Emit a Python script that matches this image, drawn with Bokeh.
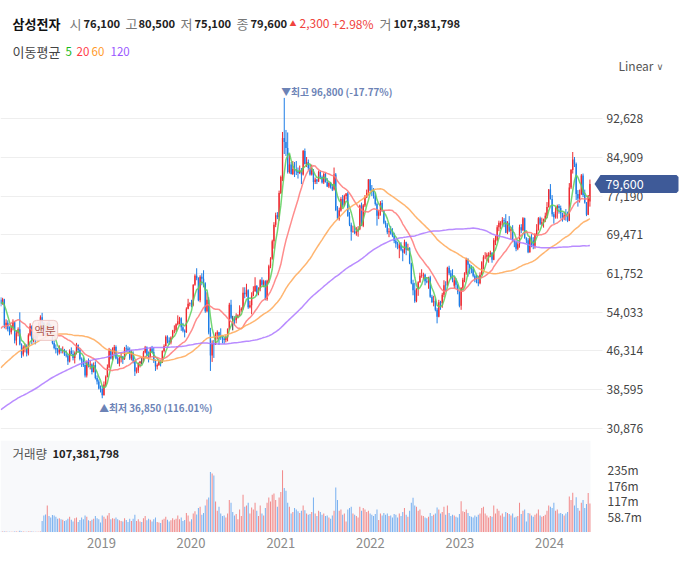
import numpy as np
import pandas as pd
from bokeh.plotting import figure
from bokeh.layouts import column
from bokeh.models import (ColumnDataSource, FixedTicker, NumeralTickFormatter, LinearAxis,
                          CustomJSTickFormatter, Label, Range1d, PolyAnnotation, BoxAnnotation)
from bokeh.embed import file_html
from bokeh.resources import INLINE

KR = "Noto Sans CJK KR"

# ---------------- data (prices in thousand KRW, weekly) ----------------
first_week = "2017-11-13"

# weekly closes before the visible window (used only to warm up the moving averages)
hist_close = [
    23.0, 22.6, 21.8, 22.4, 22.3, 22.6, 23.0, 23.2, 23.4, 25.3, 25.4, 25.4, 27.0,
    26.8, 26.2, 26.0, 26.4, 25.9, 25.5, 25.4, 25.6, 25.2, 23.2, 23.0, 23.1, 23.6,
    23.2, 23.0, 23.6, 23.7, 24.2, 24.6, 25.8, 25.6, 25.7, 25.2, 25.6, 25.6, 25.0,
    25.2, 25.5, 25.8, 26.8, 27.4, 27.8, 28.1, 28.6, 28.6, 29.0, 29.8, 30.1, 30.6,
    31.2, 31.6, 32.7, 33.0, 31.8, 31.8, 30.2, 31.7, 32.0, 33.2, 31.2, 32.4, 32.3,
    32.5, 32.4, 31.9, 32.6, 34.2, 34.8, 35.4, 35.8, 36.1, 36.6, 38.0, 37.6, 39.2,
    38.8, 38.7, 37.8, 39.4, 39.0, 39.8, 40.6, 41.5, 41.6, 41.4, 41.2, 41.7, 44.4,
    45.5, 46.3, 45.8, 45.6, 45.3, 46.0, 45.4, 48.0, 47.6, 48.2, 50.8, 50.6, 48.4,
    46.4, 45.6, 46.2, 47.0, 46.4, 46.8, 50.0, 52.6, 51.4, 51.6, 54.6, 55.0, 54.4,
    56.8, 56.5,
]

opens = [
    56.5, 55.8, 56.6, 51.4, 51.9, 50.6, 50.0, 51.0, 52.0, 48.4,
    49.8, 50.6, 47.6, 45.6, 47.0, 47.2, 45.8, 49.4, 51.2, 48.6,
    49.2, 49.0, 49.8, 51.4, 53.0, 51.9, 50.9, 49.5, 51.8, 51.3,
    49.6, 47.9, 46.9, 46.6, 46.0, 46.6, 46.3, 46.5, 45.6, 45.4,
    44.2, 46.3, 45.7, 44.9, 45.9, 47.5, 46.5, 44.7, 44.4, 43.5,
    41.4, 44.1, 43.5, 43.6, 42.1, 43.5, 40.9, 40.2, 38.8, 38.7,
    37.45, 39.6, 41.1, 43.0, 46.4, 44.8, 46.0, 47.1, 44.8, 43.8,
    44.9, 45.2, 44.7, 46.9, 46.8, 46.4, 44.8, 45.9, 44.3, 42.2,
    42.4, 43.9, 44.2, 44.2, 46.0, 47.0, 45.4, 45.1, 46.8, 46.1,
    44.3, 43.2, 43.5, 44.2, 44.0, 46.3, 47.3, 49.1, 48.4, 48.0,
    49.0, 50.3, 50.4, 51.6, 52.2, 52.8, 51.0, 50.3, 50.0, 54.7,
    55.7, 55.8, 55.5, 59.5, 61.3, 60.8, 56.4, 61.1, 60.7, 59.8,
    54.2, 56.5, 49.95, 45.4, 47.85, 47.6, 49.6, 50.0, 49.2, 49.0,
    48.8, 48.5, 49.0, 50.6, 55.5, 52.9, 52.9, 52.4, 53.0, 53.4,
    54.4, 54.7, 57.9, 57.6, 58.4, 55.0, 55.4, 57.3, 58.2, 59.3,
    57.9, 58.7, 60.4, 59.5, 60.2, 56.6, 60.3, 63.2, 64.7, 68.2,
    71.5, 73.4, 73.0, 77.8, 81.0, 88.8, 88.0, 86.8, 82.0, 83.5,
    81.6, 82.6, 82.5, 82.1, 81.8, 82.3, 81.5, 86.2, 83.6, 84.0,
    82.8, 81.5, 82.3, 80.0, 80.5, 80.1, 82.0, 81.0, 79.9, 81.6,
    80.0, 79.1, 79.8, 79.0, 78.5, 81.5, 74.4, 72.7, 74.3, 76.6,
    75.3, 77.2, 77.7, 73.2, 71.5, 70.1, 70.2, 69.8, 70.2, 70.6,
    75.3, 71.3, 75.3, 76.9, 77.8, 80.5, 78.3, 78.0, 77.3, 75.6,
    73.3, 74.0, 75.8, 74.3, 71.9, 71.5, 70.0, 70.2, 69.7, 69.3,
    68.3, 67.7, 66.8, 67.4, 66.5, 65.9, 68.0, 66.5, 66.8, 63.8,
    59.8, 58.4, 56.2, 58.7, 60.0, 61.3, 61.4, 61.5, 60.2, 60.0,
    61.0, 57.1, 56.0, 56.2, 54.5, 53.1, 56.0, 55.8, 57.5, 59.5,
    59.4, 62.9, 61.8, 61.0, 59.3, 60.4, 59.5, 58.1, 55.3, 58.9,
    60.5, 61.8, 64.6, 63.5, 62.8, 62.7, 61.3, 60.6, 60.0, 59.8,
    61.5, 64.0, 65.0, 65.1, 65.0, 65.5, 65.9, 64.5, 68.0, 68.4,
    71.0, 71.4, 71.9, 72.4, 72.2, 69.9, 71.9, 70.3, 70.6, 68.3,
    68.0, 66.7, 67.6, 71.0, 70.4, 72.8, 68.8, 68.4, 66.0, 68.9,
    68.4, 67.3, 69.6, 70.5, 72.8, 71.7, 72.0, 72.6, 73.3, 75.0,
    78.5, 76.6, 73.6, 73.0, 74.2, 75.2, 74.8, 73.8, 72.9, 73.4,
    73.3, 72.3, 78.9, 82.4, 84.5, 83.6, 77.6, 76.7, 77.6, 81.3,
    77.4, 75.9, 73.5, 76.1,
]

highs = [
    57.0, 56.9, 56.7, 52.6, 52.4, 51.2, 51.4, 52.6, 52.2, 50.4,
    51.0, 54.0, 47.8, 47.4, 47.8, 47.6, 49.8, 51.8, 51.4, 49.6,
    50.0, 50.2, 52.0, 53.4, 53.9, 52.0, 51.0, 52.0, 52.4, 51.6,
    49.7, 48.4, 47.6, 46.9, 47.4, 46.9, 47.2, 46.7, 46.4, 45.6,
    46.6, 47.0, 46.4, 46.2, 47.9, 47.6, 46.8, 45.0, 45.0, 43.9,
    44.4, 44.8, 44.3, 43.8, 44.0, 44.2, 41.4, 40.6, 39.4, 39.4,
    40.2, 41.4, 43.6, 46.9, 46.7, 47.0, 47.5, 47.4, 45.2, 45.2,
    46.0, 45.3, 47.1, 47.5, 47.2, 47.0, 46.5, 46.2, 44.4, 43.0,
    44.0, 44.3, 44.9, 46.3, 47.3, 47.2, 46.2, 47.1, 47.3, 47.0,
    44.6, 43.8, 44.6, 44.5, 46.4, 47.6, 49.4, 49.4, 49.0, 49.2,
    50.5, 51.4, 51.8, 53.4, 53.1, 53.0, 51.9, 50.6, 55.0, 56.7,
    56.0, 56.5, 59.6, 61.6, 62.8, 61.0, 61.4, 61.8, 62.4, 60.0,
    58.0, 57.0, 50.9, 48.4, 48.5, 50.0, 50.4, 50.1, 50.8, 49.2,
    49.0, 49.4, 50.8, 55.9, 56.5, 53.3, 53.2, 53.8, 53.6, 55.4,
    55.0, 59.0, 59.0, 59.7, 58.6, 56.3, 58.0, 59.2, 61.0, 59.4,
    59.0, 60.6, 61.0, 60.5, 60.4, 60.5, 63.5, 65.0, 68.5, 72.0,
    73.9, 74.0, 78.3, 81.3, 90.0, 96.8, 90.4, 89.9, 85.6, 84.0,
    84.2, 84.0, 84.2, 82.9, 83.3, 82.8, 86.4, 86.7, 85.0, 84.5,
    83.5, 83.5, 82.6, 80.9, 80.6, 82.3, 82.3, 81.3, 81.9, 81.8,
    80.8, 80.0, 80.0, 79.6, 82.9, 81.8, 75.2, 74.9, 77.0, 77.4,
    77.5, 77.8, 78.0, 74.0, 71.9, 71.3, 71.3, 71.0, 71.2, 75.5,
    75.9, 75.6, 77.4, 78.5, 80.6, 80.6, 79.4, 78.8, 77.8, 75.9,
    74.4, 76.2, 76.4, 74.4, 72.3, 71.8, 70.8, 71.2, 70.8, 69.9,
    68.6, 68.1, 67.9, 68.0, 66.7, 68.5, 68.1, 67.7, 67.0, 63.9,
    60.5, 59.9, 58.8, 60.2, 61.9, 62.6, 61.9, 61.7, 61.0, 61.1,
    61.3, 57.5, 57.3, 56.7, 54.9, 56.5, 56.3, 57.9, 60.4, 60.2,
    63.1, 63.3, 62.4, 62.6, 61.1, 60.8, 59.6, 58.3, 59.0, 60.9,
    62.0, 64.9, 64.8, 63.7, 63.4, 63.0, 61.6, 61.5, 61.3, 62.0,
    64.2, 65.4, 66.0, 65.9, 66.0, 66.3, 66.0, 68.8, 69.3, 71.4,
    72.3, 72.2, 73.0, 72.8, 73.6, 72.2, 73.2, 71.0, 71.4, 68.4,
    68.3, 68.0, 71.5, 71.6, 73.0, 72.9, 69.0, 68.8, 69.3, 69.6,
    69.0, 69.8, 71.6, 73.0, 73.1, 72.9, 72.7, 73.9, 76.0, 78.6,
    79.6, 77.4, 74.0, 75.0, 75.5, 75.6, 75.3, 73.9, 74.0, 74.6,
    74.1, 79.8, 82.6, 86.0, 85.0, 83.9, 78.4, 78.5, 81.6, 81.7,
    78.5, 76.0, 77.4, 80.5,
]

lows = [
    55.2, 55.5, 50.8, 50.6, 50.2, 49.4, 49.6, 50.4, 47.8, 47.4,
    49.2, 47.4, 44.9, 45.2, 46.0, 45.2, 45.4, 49.2, 47.6, 48.0,
    47.6, 48.6, 49.6, 51.0, 51.3, 50.4, 49.1, 49.4, 50.4, 49.4,
    47.6, 46.6, 45.8, 45.4, 45.6, 45.8, 45.8, 45.3, 45.0, 43.5,
    44.0, 45.6, 44.4, 43.8, 45.6, 46.0, 44.4, 43.1, 43.1, 41.0,
    41.0, 43.0, 42.6, 41.6, 42.0, 40.6, 39.6, 38.6, 38.0, 36.85,
    37.4, 39.2, 41.0, 42.8, 44.6, 44.4, 45.6, 44.6, 43.7, 43.2,
    44.0, 43.7, 44.5, 46.0, 46.1, 44.5, 44.4, 43.8, 41.3, 41.8,
    41.9, 43.0, 43.6, 44.0, 45.8, 45.3, 44.0, 45.0, 45.9, 43.9,
    42.3, 42.6, 43.3, 43.2, 43.9, 46.0, 47.2, 47.8, 47.5, 47.6,
    48.8, 49.8, 50.1, 51.4, 51.6, 50.3, 50.0, 49.0, 49.9, 54.6,
    55.2, 55.0, 55.2, 59.3, 60.4, 56.2, 56.0, 59.4, 59.0, 53.9,
    54.0, 49.6, 42.3, 44.1, 44.9, 47.5, 48.6, 47.5, 48.5, 47.8,
    47.7, 48.0, 48.2, 50.5, 52.6, 50.4, 51.4, 51.8, 52.8, 53.3,
    54.1, 54.5, 56.8, 57.1, 54.7, 54.8, 53.6, 57.2, 58.1, 57.2,
    57.4, 58.2, 59.3, 59.0, 56.4, 56.3, 59.9, 62.8, 64.5, 66.7,
    71.0, 72.6, 72.3, 77.6, 80.2, 85.6, 85.2, 81.7, 81.7, 81.5,
    81.4, 81.0, 81.4, 80.7, 81.6, 79.6, 81.3, 83.5, 83.0, 82.4,
    81.3, 81.3, 78.5, 79.6, 79.6, 80.0, 80.6, 79.7, 79.6, 79.9,
    79.0, 78.8, 78.7, 78.2, 78.3, 74.2, 72.5, 72.3, 74.1, 75.0,
    75.2, 76.5, 73.1, 71.2, 68.3, 69.9, 69.6, 69.3, 69.1, 70.4,
    71.2, 71.0, 75.0, 76.8, 77.3, 78.2, 77.2, 76.7, 75.3, 71.3,
    72.6, 73.3, 74.1, 71.6, 70.9, 69.6, 69.0, 69.5, 69.0, 67.8,
    66.9, 66.6, 64.8, 66.2, 64.2, 65.7, 65.4, 66.3, 63.6, 59.6,
    57.4, 55.9, 56.0, 57.3, 59.9, 60.9, 60.6, 59.4, 59.8, 58.7,
    56.9, 55.9, 55.2, 54.2, 51.8, 53.0, 54.5, 54.9, 57.0, 58.2,
    59.2, 61.4, 60.6, 60.0, 58.8, 58.7, 57.6, 55.0, 54.5, 58.5,
    60.0, 61.5, 61.1, 61.6, 61.8, 61.0, 60.0, 59.8, 59.2, 59.6,
    61.4, 62.6, 64.6, 64.2, 63.9, 65.0, 63.9, 64.4, 67.4, 68.2,
    70.2, 70.6, 71.2, 71.0, 69.8, 69.6, 70.0, 68.6, 68.0, 67.0,
    66.2, 66.4, 66.9, 69.8, 70.2, 68.7, 67.8, 65.8, 65.9, 67.0,
    66.6, 66.7, 69.3, 70.3, 71.4, 71.3, 70.9, 72.0, 72.8, 74.9,
    76.5, 73.1, 71.7, 72.7, 72.7, 73.7, 72.7, 72.1, 72.4, 72.3,
    72.0, 72.2, 78.6, 81.7, 83.0, 76.4, 75.1, 75.9, 77.4, 77.0,
    75.7, 73.2, 73.4, 75.1,
]

closes = [
    55.8, 56.6, 51.4, 51.9, 50.6, 50.0, 51.0, 52.0, 48.4, 49.8,
    50.6, 47.6, 45.6, 47.0, 47.2, 45.8, 49.4, 51.2, 48.6, 49.2,
    49.0, 49.8, 51.4, 53.0, 51.9, 50.9, 49.5, 51.8, 51.3, 49.6,
    47.9, 46.9, 46.6, 46.0, 46.6, 46.3, 46.5, 45.6, 45.4, 44.2,
    46.3, 45.7, 44.9, 45.9, 47.5, 46.5, 44.7, 44.4, 43.5, 41.4,
    44.1, 43.5, 43.6, 42.1, 43.5, 40.9, 40.2, 38.8, 38.7, 37.45,
    39.6, 41.1, 43.0, 46.4, 44.8, 46.0, 47.1, 44.8, 43.8, 44.9,
    45.2, 44.6, 46.9, 46.8, 46.4, 44.8, 45.9, 44.3, 42.2, 42.4,
    43.9, 44.2, 44.2, 46.0, 47.0, 45.4, 45.1, 46.8, 46.1, 44.3,
    43.2, 43.5, 44.2, 44.0, 46.3, 47.3, 49.1, 48.4, 48.0, 49.0,
    50.3, 50.4, 51.6, 52.2, 52.8, 51.0, 50.3, 50.0, 54.7, 55.7,
    55.8, 55.5, 59.5, 61.3, 60.8, 56.4, 61.1, 60.7, 59.8, 54.2,
    56.5, 49.95, 45.4, 47.85, 47.6, 49.6, 50.0, 49.2, 49.0, 48.8,
    48.5, 49.0, 50.6, 55.5, 52.9, 52.9, 52.4, 53.0, 53.4, 54.4,
    54.7, 57.9, 57.6, 58.4, 55.0, 55.4, 57.3, 58.2, 59.3, 57.9,
    58.7, 60.4, 59.5, 60.2, 56.6, 60.3, 63.2, 64.7, 68.2, 71.5,
    73.4, 73.0, 77.8, 81.0, 88.8, 88.0, 86.8, 82.0, 83.5, 81.6,
    82.6, 82.5, 82.1, 81.8, 82.3, 81.5, 86.2, 83.6, 84.0, 82.8,
    81.5, 82.3, 80.0, 80.5, 80.1, 82.0, 81.0, 79.9, 81.6, 80.0,
    79.1, 79.8, 79.0, 78.5, 81.5, 74.4, 72.7, 74.3, 76.6, 75.3,
    77.2, 77.7, 73.2, 71.5, 70.1, 70.2, 69.8, 70.2, 70.6, 75.3,
    71.3, 75.3, 76.9, 77.8, 80.5, 78.3, 78.0, 77.3, 75.6, 73.3,
    74.0, 75.8, 74.3, 71.9, 71.5, 70.0, 70.2, 69.7, 69.3, 68.3,
    67.7, 67.4, 67.4, 66.5, 65.9, 68.0, 66.5, 66.8, 63.8, 59.8,
    58.4, 56.2, 58.7, 60.0, 61.3, 61.4, 61.5, 60.2, 60.0, 61.0,
    57.1, 56.0, 56.2, 54.5, 53.1, 56.0, 55.8, 57.5, 59.4, 59.4,
    62.9, 61.8, 61.0, 60.4, 60.4, 59.5, 58.1, 55.3, 58.9, 60.5,
    61.8, 64.6, 63.5, 62.8, 62.7, 61.3, 60.6, 60.0, 59.8, 61.5,
    64.0, 65.0, 65.1, 65.5, 65.5, 65.9, 64.5, 68.4, 68.4, 71.0,
    71.9, 71.9, 72.4, 72.2, 69.9, 71.9, 70.3, 70.6, 68.3, 68.0,
    66.7, 67.6, 71.0, 70.4, 72.8, 68.8, 68.4, 66.0, 68.9, 68.4,
    67.3, 69.6, 70.5, 72.8, 71.7, 72.0, 72.6, 73.3, 75.0, 78.5,
    76.6, 73.6, 73.0, 74.2, 75.2, 74.8, 73.8, 72.9, 73.4, 73.3,
    72.3, 78.9, 82.4, 84.5, 83.6, 77.6, 76.7, 77.6, 81.3, 77.4,
    75.9, 73.5, 77.3, 79.6,
]

# weekly volume, millions of shares (pre-split weeks are unadjusted)
volume_m = [
    1.6, 1.9, 2.4, 1.8, 1.5, 1.3, 1.4, 1.7, 2.2, 1.9, 1.6, 5.5, 2.6, 1.8, 1.5, 1.7,
    2.0, 1.9, 1.8, 1.4, 1.6, 1.5, 1.7, 2.1,
    42, 62, 66, 100, 60, 55, 64, 62, 58, 50,
    52, 48, 46, 42, 44, 50, 58, 46, 40, 52,
    55, 38, 45, 55, 48, 62, 58, 44, 42, 46,
    50, 60, 52, 48, 36, 62, 58, 50, 62, 72,
    48, 52, 50, 55, 48, 44, 42, 40, 52, 45,
    38, 50, 42, 50, 65, 42, 48, 40, 38, 52,
    60, 44, 50, 46, 40, 48, 55, 38, 36, 34,
    46, 50, 58, 46, 40, 44, 52, 46, 50, 62,
    48, 55, 42, 45, 72, 62, 40, 48, 70, 78,
    66, 90, 95, 65, 72, 100, 122, 130, 225, 220,
    212, 115, 80, 95, 70, 60, 62, 55, 70, 120,
    110, 75, 62, 68, 48, 85, 60, 140, 95, 100,
    110, 70, 92, 85, 110, 80, 60, 100, 70, 62,
    90, 110, 130, 115, 140, 145, 120, 95, 130, 150,
    232, 165, 155, 110, 95, 70, 75, 90, 85, 78,
    72, 80, 100, 82, 70, 65, 68, 75, 130, 70,
    60, 80, 75, 65, 70, 60, 62, 55, 50, 62,
    80, 167, 120, 80, 85, 65, 70, 40, 85, 90,
    95, 70, 65, 60, 55, 95, 80, 90, 85, 75,
    80, 70, 65, 60, 68, 85, 45, 70, 62, 72,
    65, 70, 60, 62, 55, 68, 65, 55, 70, 60,
    75, 90, 65, 58, 80, 110, 129, 100, 95, 80,
    85, 62, 60, 55, 52, 58, 72, 60, 65, 70,
    92, 85, 70, 75, 95, 65, 100, 72, 60, 65,
    62, 58, 55, 68, 116, 78, 75, 85, 72, 60,
    58, 55, 62, 58, 65, 70, 90, 95, 70, 62,
    55, 60, 58, 100, 70, 88, 80, 62, 70, 58,
    75, 72, 68, 62, 70, 55, 58, 60, 110, 68,
    80, 85, 40, 72, 70, 62, 58, 65, 70, 85,
    62, 58, 60, 65, 80, 100, 95, 90, 110, 80,
    85, 70, 72, 68, 62, 70, 75, 134, 120, 148,
    100, 131, 90, 80, 110, 120, 90, 105, 147, 107.381798,
]

price_ticks = [30876, 38595, 46314, 54033, 61752, 69471, 77190, 84909, 92628]
volume_ticks_m = [58.7, 117.4, 176.1, 234.8]
year_ticks = [2019, 2020, 2021, 2022, 2023, 2024]
ma_windows = [5, 20, 60, 120]
ma_colors = ["#5ccf5c", "#ff7878", "#ffa857", "#ad78ff"]

split_week = 24
peak_week = 165
low_week = 59

# ---------------- derived ----------------
o = np.array(opens) * 1000
h = np.array(highs) * 1000
l = np.array(lows) * 1000
c = np.array(closes) * 1000
vol = np.array(volume_m) * 1e6
n = len(c)
xs = pd.date_range(first_week, periods=n, freq="7D") + pd.Timedelta(days=4)

RED, BLUE, FLAT = "#ee2a30", "#1c7ce6", "#333333"
VRED, VBLUE = "#f28c8c", "#7bb2f0"
ccol = np.where(c > o, RED, np.where(c < o, BLUE, FLAT))
vcol = np.where(c > o, VRED, VBLUE)

full = pd.Series(np.array(hist_close + closes) * 1000)
data = dict(x=xs, o=o, h=h, l=l, c=c, top=np.maximum(o, c), bottom=np.minimum(o, c),
            color=ccol, vol=vol, vcolor=vcol)
for w in ma_windows:
    data[f"ma{w}"] = full.rolling(w).mean().values[len(hist_close):]
src = ColumnDataSource(data)

# ---------------- geometry ----------------
W, PANE_W = 684, 590              # canvas width, width of the chart pane
PX_PER_DAY = 89.6 / 365.25
DAY_MS = 86400000.0
x0 = pd.Timestamp("2019-01-01") - pd.Timedelta(days=101 / PX_PER_DAY)
x0_ms = x0.value / 1e6
pane_end_ms = x0_ms + PANE_W / PX_PER_DAY * DAY_MS
full_end_ms = x0_ms + W / PX_PER_DAY * DAY_MS
xr = Range1d(x0_ms, full_end_ms)

PH = 437                          # price frame height
y_lo, y_hi = 29015, 116241
yr = Range1d(y_lo, y_hi)
won_per_px = (y_hi - y_lo) / PH


def px_to_ms(px):
    return x0_ms + px / PX_PER_DAY * DAY_MS


# ---------------- price pane ----------------
p = figure(width=W, height=PH + 3, x_range=xr, y_range=yr,
           x_axis_type="datetime", x_axis_location=None, y_axis_location=None,
           toolbar_location=None, output_backend="svg",
           min_border_left=0, min_border_right=0, min_border_top=0, min_border_bottom=3,
           outline_line_color=None, background_fill_color="white", border_fill_color="white")
p.grid.grid_line_color = None

yax = LinearAxis(fixed_location=pane_end_ms, ticker=FixedTicker(ticks=price_ticks),
                 formatter=NumeralTickFormatter(format="0,0"))
yax.level = "underlay"
yax.axis_line_color = None
yax.major_tick_in = PANE_W
yax.major_tick_out = 12
yax.major_tick_line_color = "#eeeeee"
yax.minor_tick_line_color = None
yax.major_label_standoff = 4
yax.major_label_text_font = KR
yax.major_label_text_font_size = "12px"
yax.major_label_text_color = "#444444"
p.add_layout(yax, "right")

p.segment(x0="x", y0="l", x1="x", y1="h", line_color="color", line_width=1, source=src)
p.vbar(x="x", width=5.5 * DAY_MS, top="top", bottom="bottom", fill_color="color",
       line_color=None, source=src)
for w, col in zip(ma_windows, ma_colors):
    p.line(x="x", y=f"ma{w}", line_color=col, line_width=1.5, line_alpha=0.85, source=src)


def txt(fig, x, y, text, color, size="13px", style="normal", font=KR, align="left"):
    fig.add_layout(Label(x=x, y=y, x_units="canvas", y_units="canvas", text=text,
                         text_color=color, text_font_size=size, text_font_style=style,
                         text_font=font, text_align=align, text_baseline="middle"))


GRAY = "#777777"
DARK = "#222222"
RED_T = "#f0433d"
NUM = "11.2px"
txt(p, 12, 23, "삼성전자", "#111111", style="bold")
txt(p, 69, 23, "시", GRAY)
txt(p, 83, 23, "76,100", DARK, size=NUM, style="bold")
txt(p, 125, 23, "고", GRAY)
txt(p, 138, 23, "80,500", DARK, size=NUM, style="bold")
txt(p, 180, 23, "저", GRAY)
txt(p, 194, 23, "75,100", DARK, size=NUM, style="bold")
txt(p, 236, 23, "종", GRAY)
txt(p, 250, 23, "79,600", DARK, size=NUM, style="bold")
txt(p, 289, 22, "▲", RED_T, size="7px")
txt(p, 299, 23, "2,300", RED_T, size="12px")
txt(p, 332, 23, "+2.98%", RED_T, size="12px")
txt(p, 379, 23, "거", GRAY)
txt(p, 393, 23, "107,381,798", DARK, size=NUM, style="bold")

txt(p, 12, 51, "이동평균", "#444444")
txt(p, 65, 51, "5", "#19b919", size="11.5px")
txt(p, 76, 51, "20", "#ff3a48", size="11.5px")
txt(p, 91, 51, "60", "#ff9a2a", size="11.5px")
txt(p, 110, 51, "120", "#9a58ff", size="11.5px")

txt(p, 618, 65, "Linear", "#555555", size="12px")
txt(p, 656, 66, "∨", "#666666", size="9.5px", font="DejaVu Sans")

# last price tag (data coordinates: y = last close)
last = c[-1]
hh = 9 * won_per_px
tag_x = [px_to_ms(v) for v in (594, 600, 676, 678, 678, 676, 600)]
tag_y = [last, last + hh, last + hh, last + hh - 2 * won_per_px,
         last - hh + 2 * won_per_px, last - hh, last - hh]
p.add_layout(PolyAnnotation(xs=tag_x, ys=tag_y, fill_color="#3e5a98", fill_alpha=1,
                            line_color=None))
p.add_layout(Label(x=605, y=last, x_units="canvas", y_units="data", text=f"{int(last):,}",
                   text_color="white", text_font=KR, text_font_size="12.5px",
                   text_baseline="middle", text_align="left"))

# high / low markers
p.add_layout(Label(x=xs[peak_week], y=h[peak_week], text="▼최고 96,800 (-17.77%)",
                   x_offset=-3, y_offset=6, text_align="left", text_baseline="middle",
                   text_font=KR, text_font_size="9.8px", text_font_style="bold",
                   text_color="#6c83b6"))
p.add_layout(Label(x=xs[low_week], y=l[low_week], text="▲최저 36,850 (116.01%)",
                   x_offset=-3, y_offset=-10, text_align="left", text_baseline="middle",
                   text_font=KR, text_font_size="9.8px", text_font_style="bold",
                   text_color="#6c83b6"))
# stock split marker
p.add_layout(Label(x=xs[split_week], y=50400, text="액분", x_offset=3,
                   text_align="center", text_baseline="middle", text_font=KR,
                   text_font_size="11.5px", text_color="#b0564c",
                   background_fill_color="#fcefee", background_fill_alpha=0.9,
                   border_line_color="#eec7c4", padding=2, border_radius=4))

# ---------------- volume pane ----------------
VH = 92
v_lo, v_hi = -1.5e6, 343.6e6
v = figure(width=W, height=VH + 39, x_range=xr, y_range=Range1d(v_lo, v_hi),
           x_axis_type="datetime", y_axis_location=None,
           toolbar_location=None, output_backend="svg",
           min_border_left=0, min_border_right=0, min_border_top=0, min_border_bottom=39,
           outline_line_color=None, background_fill_color="white",
           border_fill_color="white")
v.add_layout(BoxAnnotation(left=x0_ms, right=pane_end_ms, bottom=v_lo, top=v_hi,
                           fill_color="#f8f9fb", fill_alpha=1, line_color=None,
                           level="underlay"))
v.vbar(x="x", width=4.2 * DAY_MS, top="vol", bottom=0, fill_color="vcolor",
       line_color=None, source=src)
v.grid.grid_line_color = None

vax = LinearAxis(fixed_location=pane_end_ms,
                 ticker=FixedTicker(ticks=[t * 1e6 for t in volume_ticks_m]),
                 formatter=CustomJSTickFormatter(code="return (tick/1e6).toPrecision(3) + 'm';"))
vax.axis_line_color = None
vax.major_tick_in = 0
vax.major_tick_out = 12
vax.major_tick_line_color = None
vax.minor_tick_line_color = None
vax.major_label_standoff = 5
vax.major_label_text_font = KR
vax.major_label_text_font_size = "12px"
vax.major_label_text_color = "#444444"
v.add_layout(vax, "right")

v.xaxis.ticker = FixedTicker(ticks=[pd.Timestamp(f"{y}-01-01").value / 1e6 for y in year_ticks])
v.xaxis.formatter = CustomJSTickFormatter(code="return new Date(tick).getUTCFullYear().toString();")
v.xaxis.axis_line_color = None
v.xaxis.major_tick_line_color = None
v.xaxis.minor_tick_line_color = None
v.xaxis.major_tick_in = 0
v.xaxis.major_tick_out = 0
v.xaxis.major_label_standoff = 5
v.xaxis.major_label_text_font = KR
v.xaxis.major_label_text_font_size = "13px"
v.xaxis.major_label_text_color = "#8a8a8a"

txt(v, 12, 13, "거래량", "#555555", size="12.5px")
txt(v, 52, 13, "107,381,798", DARK, size=NUM, style="bold")

layout = column(p, v, spacing=0)
open("out.html", "w").write(file_html(layout, INLINE))
